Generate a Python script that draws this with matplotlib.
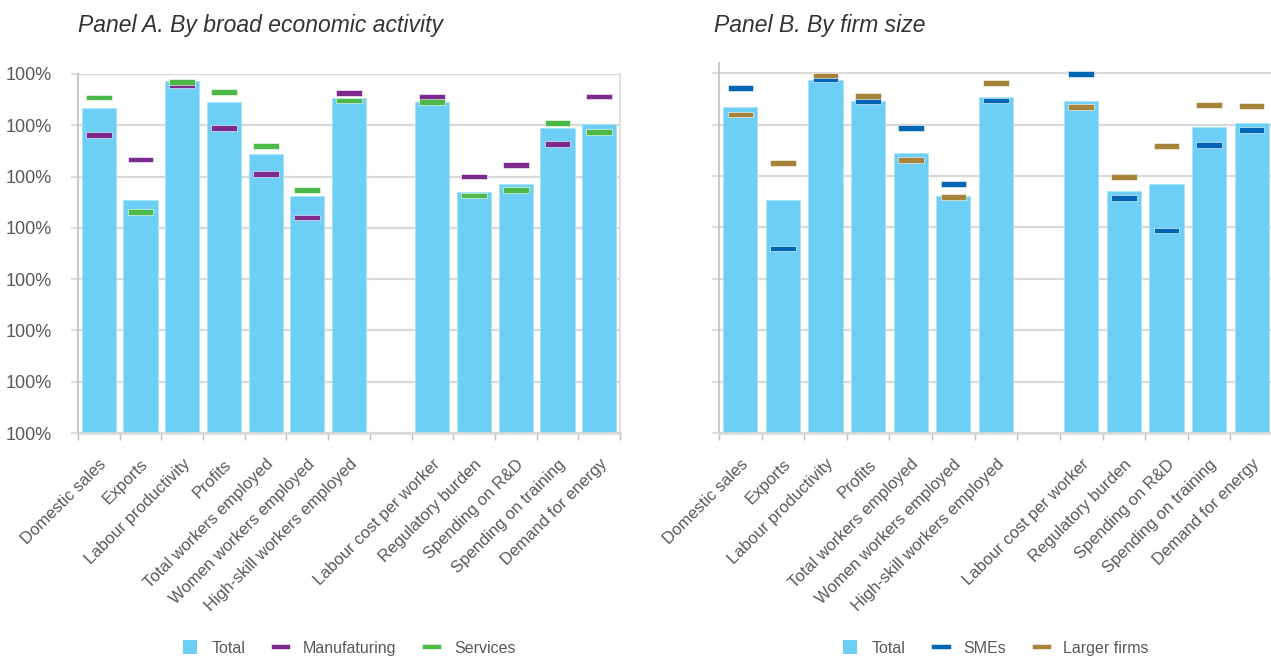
import matplotlib.pyplot as plt
import numpy as np
from matplotlib.lines import Line2D
from matplotlib.patches import Patch

plt.rcParams["font.family"] = ["Liberation Sans", "DejaVu Sans"]

# ---------------------------------------------------------------------------
# Data (the y labels are all "100%" in the original)
# ---------------------------------------------------------------------------

categories = [
    "Domestic sales", "Exports", "Labour productivity", "Profits",
    "Total workers employed", "Women workers employed",
    "High-skill workers employed",
    None,  # empty slot between the two groups
    "Labour cost per worker", "Regulatory burden", "Spending on R&D",
    "Spending on training", "Demand for energy",
]

total = [6.34, 4.54, 6.86, 6.46, 5.44, 4.62, 6.54,
         None, 6.46, 4.70, 4.85, 5.95, 6.03]

manufacturing = [5.81, 5.33, 6.78, 5.95, 5.05, 4.20, 6.63,
                 None, 6.55, 5.00, 5.22, 5.64, 6.56]
services = [6.54, 4.31, 6.85, 6.65, 5.60, 4.74, 6.48,
            None, 6.46, 4.63, 4.74, 6.05, 5.87]

smes = [6.71, 3.59, 6.88, 6.46, 5.93, 4.84, 6.47,
        None, 6.98, 4.57, 3.94, 5.61, 5.89]
larger_firms = [6.20, 5.25, 6.96, 6.56, 5.31, 4.59, 6.81,
                None, 6.34, 4.98, 5.58, 6.38, 6.36]

y_ticks = list(range(8))
y_tick_labels = ["100%"] * 8

# ---------------------------------------------------------------------------
# Style
# ---------------------------------------------------------------------------

C_TOTAL = "#6dcff6"
C_MANUF = "#7d2a8e"
C_SERV = "#4cb848"
C_SME = "#0065b3"
C_LARGE = "#a5843a"
C_GRID = "#d9d9d9"
C_SPINE = "#bfbfbf"
C_TEXT = "#595959"

W, H = 1271, 657
MARK_H = 0.11  # marker thickness in data units (~5-6 px)


def fx(px):
    return px / W


def fy(px):
    return 1 - px / H


def draw_panel(ax, series, colors, bar_w, mark_w, ytop, show_ylabels):
    n = len(categories)
    idx = [i for i, c in enumerate(categories) if c is not None]
    xc = np.array(idx) + 0.5

    ax.bar(xc, [total[i] for i in idx], width=bar_w, color=C_TOTAL,
           edgecolor="#a9e3fa", linewidth=0.6, zorder=2)
    for vals, col in zip(series, colors):
        v = np.array([vals[i] for i in idx])
        ax.bar(xc, MARK_H, bottom=v - MARK_H / 2, width=mark_w, color=col,
               edgecolor="white", linewidth=0.4, zorder=3, clip_on=False)

    ax.set_xlim(0, n)
    ax.set_ylim(0, ytop)

    ax.set_yticks(y_ticks)
    if show_ylabels:
        ax.set_yticklabels(y_tick_labels)
    else:
        ax.set_yticklabels([])
    ax.yaxis.grid(True, color=C_GRID, linewidth=1.6, zorder=0)
    ax.set_axisbelow(True)
    ax.tick_params(axis="y", length=5, width=1.2, color=C_GRID, pad=14,
                   labelsize=13, labelcolor=C_TEXT)

    ax.set_xticks(np.arange(n + 1))
    ax.set_xticklabels([])
    ax.tick_params(axis="x", which="major", length=5, width=1.0,
                   color=C_SPINE)
    ax.set_xticks(xc, minor=True)
    ax.set_xticklabels([categories[i] for i in idx], minor=True,
                       rotation=45, ha="right", va="top",
                       rotation_mode="anchor")
    ax.tick_params(axis="x", which="minor", length=0, pad=17,
                   labelsize=12, labelcolor=C_TEXT)

    for s in ax.spines.values():
        s.set_color(C_SPINE)
        s.set_linewidth(1.2)
    ax.spines["bottom"].set_color(C_GRID)
    ax.spines["bottom"].set_linewidth(1.8)


fig = plt.figure(figsize=(W / 100, H / 100), dpi=100)

# Panel A
axA = fig.add_axes([fx(78), fy(433), fx(620 - 78), (433 - 74) / H])
draw_panel(axA, [manufacturing, services], [C_MANUF, C_SERV],
           0.82, 0.62, 7, True)
axA.spines["top"].set_visible(False)
axA.spines["right"].set_color(C_GRID)

# Panel B (slightly taller, no right border in view)
axB = fig.add_axes([fx(719), fy(433), fx(1273 - 719), (433 - 63) / H])
draw_panel(axB, [smes, larger_firms], [C_SME, C_LARGE],
           0.80, 0.60, 7.2, False)
axB.spines["top"].set_visible(False)
axB.spines["right"].set_visible(False)

fig.text(fx(78), fy(32), "Panel A. By broad economic activity",
         fontsize=16.5, style="italic", color="#333333", va="baseline")
fig.text(fx(714), fy(32), "Panel B. By firm size",
         fontsize=16.5, style="italic", color="#333333", va="baseline")

# Legends
def add_legend(ax, labels, colors, xcenter):
    handles = [Patch(facecolor=C_TOTAL, edgecolor="none")]
    handles += [Line2D([0], [0], color=c, lw=3.2) for c in colors]
    fig.legend(handles, labels, loc="center",
               bbox_to_anchor=(fx(xcenter), fy(648)),
               bbox_transform=fig.transFigure, ncol=3, frameon=False,
               fontsize=11.5, labelcolor=C_TEXT, handlelength=0.9,
               handleheight=0.9, handletextpad=0.9, columnspacing=1.8)


add_legend(axA, ["Total", "Manufaturing", "Services"],
           [C_MANUF, C_SERV], 349)
add_legend(axB, ["Total", "SMEs", "Larger firms"],
           [C_SME, C_LARGE], 996)

fig.savefig("out.png", dpi=100)
